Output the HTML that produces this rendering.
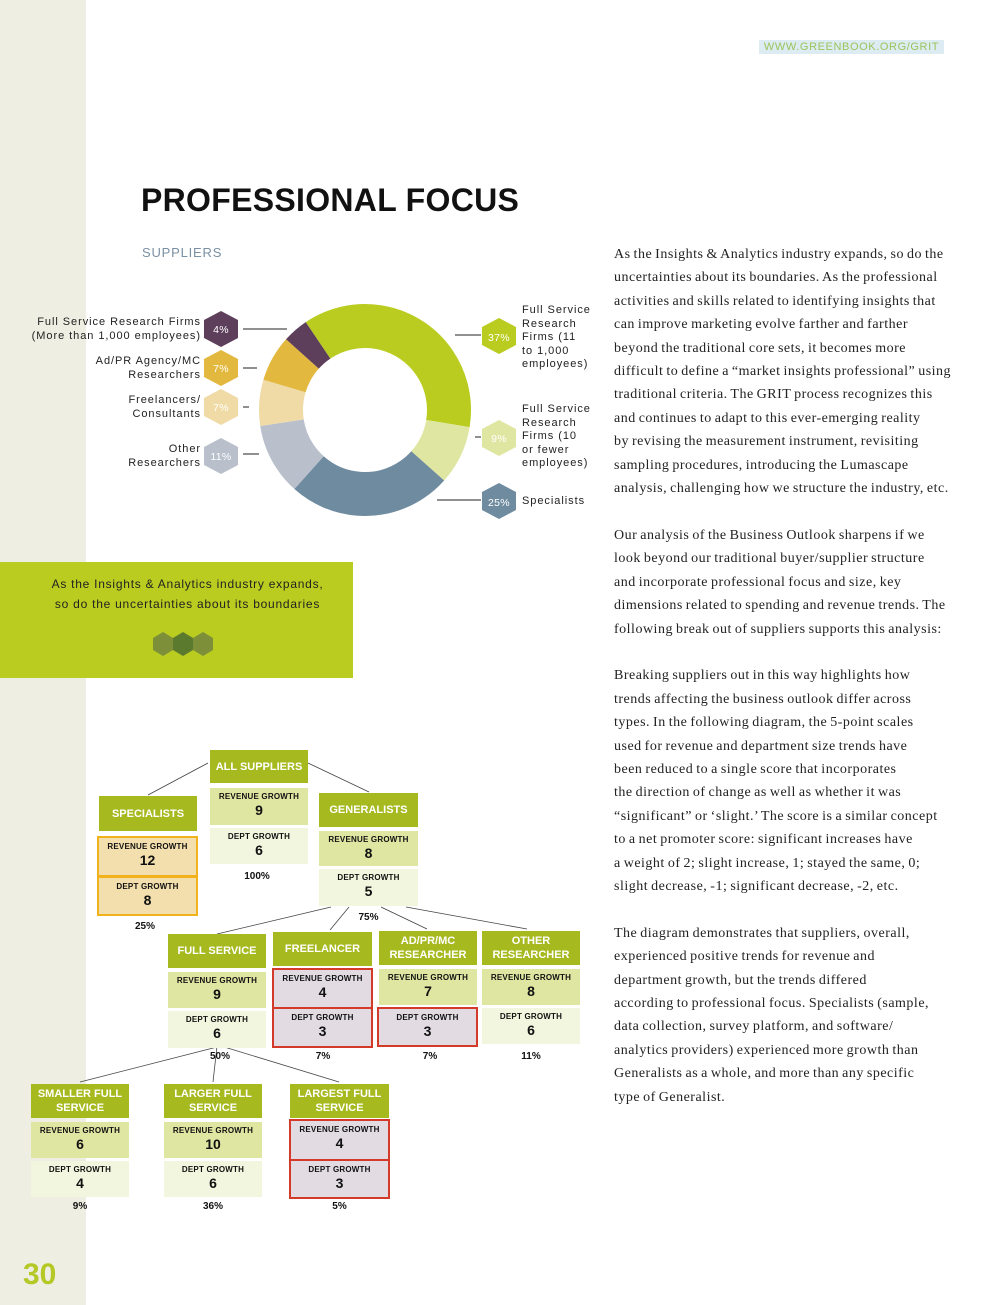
<!DOCTYPE html>
<html><head><meta charset="utf-8"><style>
*{margin:0;padding:0;box-sizing:border-box}
body{width:990px;height:1305px;position:relative;background:#fff;font-family:"Liberation Sans",sans-serif;overflow:hidden}
.a{position:absolute}
.strip{left:0;top:0;width:86px;height:1305px;background:#eeeee2}
.body{left:614px;top:243px;font-family:"Liberation Serif",serif;font-size:14px;line-height:23.4px;color:#222;white-space:nowrap;letter-spacing:.5px;word-spacing:-1px}
.hd{position:absolute;background:#a6b91f;color:#fff;font-weight:bold;font-size:11px;text-align:center;display:flex;align-items:center;justify-content:center;line-height:14px}
.c{position:absolute;text-align:center;color:#111;font-weight:bold}
.c .l{font-size:8px;display:block;margin-top:4px;letter-spacing:.2px}
.c .n{font-size:14px;display:block;line-height:18px}
.rv{background:#dfe6a2}
.dp{background:#f3f6de}
.red{background:#e2dbe2;border:2px solid #d33a2a}
.org{background:#f3dfae;border:2px solid #f2b21c}
.pct{position:absolute;font-size:10px;font-weight:bold;color:#111;text-align:center}
.lab{position:absolute;font-size:11px;color:#222;letter-spacing:.95px;line-height:13.5px}
</style></head><body>
<div class="a strip"></div>
<div class="a" style="left:759px;top:40px;width:185px;height:14px;background:#dcecf2;color:#9cc45a;font-size:11px;letter-spacing:.6px;line-height:14px;text-align:center">WWW.GREENBOOK.ORG/GRIT</div>
<div class="a" style="left:141px;top:182px;font-size:32px;font-weight:bold;color:#111;letter-spacing:.3px">PROFESSIONAL FOCUS</div>
<div class="a" style="left:142px;top:245px;font-size:13px;color:#7a90a4;letter-spacing:.8px">SUPPLIERS</div>

<svg class="a" style="left:0;top:0" width="990" height="700">
<g transform="translate(365,410) rotate(-124)" fill="none" stroke-width="44">
<circle r="84" stroke="#b9cc1f" stroke-dasharray="195.3 600" stroke-dashoffset="0"/>
<circle r="84" stroke="#dfe6a2" stroke-dasharray="47.5 600" stroke-dashoffset="-195.3"/>
<circle r="84" stroke="#6f8ba0" stroke-dasharray="132 600" stroke-dashoffset="-242.8"/>
<circle r="84" stroke="#b9c0cc" stroke-dasharray="58 600" stroke-dashoffset="-374.8"/>
<circle r="84" stroke="#f0dba6" stroke-dasharray="37 600" stroke-dashoffset="-432.8"/>
<circle r="84" stroke="#e2b83e" stroke-dasharray="37 600" stroke-dashoffset="-469.8"/>
<circle r="84" stroke="#5e3f5b" stroke-dasharray="21.1 600" stroke-dashoffset="-506.8"/>
</g>
<g stroke="#222" stroke-width="1">
<line x1="243" y1="329" x2="287" y2="329"/><line x1="243" y1="368" x2="257" y2="368"/>
<line x1="243" y1="407" x2="249" y2="407"/><line x1="243" y1="454" x2="259" y2="454"/>
<line x1="455" y1="335" x2="481" y2="335"/><line x1="475" y1="437" x2="481" y2="437"/>
<line x1="437" y1="500" x2="481" y2="500"/>
</g>
<g font-family="Liberation Sans" font-size="10.5" fill="#fff" text-anchor="middle" letter-spacing=".3">
<polygon points="221,311 238,320 238,338 221,347 204,338 204,320" fill="#5e3f5b"/><text x="221" y="333">4%</text>
<polygon points="221,350 238,359 238,377 221,386 204,377 204,359" fill="#e2b83e"/><text x="221" y="372">7%</text>
<polygon points="221,389 238,398 238,416 221,425 204,416 204,398" fill="#f0dba6"/><text x="221" y="411">7%</text>
<polygon points="221,438 238,447 238,465 221,474 204,465 204,447" fill="#b9c0cc"/><text x="221" y="460">11%</text>
<polygon points="499,318 516,327 516,345 499,354 482,345 482,327" fill="#b9cc1f"/><text x="499" y="341">37%</text>
<polygon points="499,420 516,429 516,447 499,456 482,447 482,429" fill="#dfe6a2"/><text x="499" y="442">9%</text>
<polygon points="499,483 516,492 516,510 499,519 482,510 482,492" fill="#6f8ba0"/><text x="499" y="506">25%</text>
</g>
</svg>
<div class="lab" style="right:789px;top:316px;text-align:right">Full Service Research Firms<br>(More than 1,000 employees)</div>
<div class="lab" style="right:789px;top:355px;text-align:right">Ad/PR Agency/MC<br>Researchers</div>
<div class="lab" style="right:789px;top:394px;text-align:right">Freelancers/<br>Consultants</div>
<div class="lab" style="right:789px;top:443px;text-align:right">Other<br>Researchers</div>
<div class="lab" style="left:522px;top:304px">Full Service<br>Research<br>Firms (11<br>to 1,000<br>employees)</div>
<div class="lab" style="left:522px;top:403px">Full Service<br>Research<br>Firms (10<br>or fewer<br>employees)</div>
<div class="lab" style="left:522px;top:495px">Specialists</div>

<div class="a" style="left:0;top:562px;width:353px;height:116px;background:#b9cc1f"></div>
<div class="a" style="left:0;top:574px;width:375px;text-align:center;font-size:12px;line-height:20px;color:#222;letter-spacing:.75px">As the Insights &amp; Analytics industry expands,<br>so do the uncertainties about its boundaries</div>
<svg class="a" style="left:150px;top:630px" width="70" height="30">
<polygon points="13,2 23,8 23,20 13,26 3,20 3,8" fill="#7e8f3a"/>
<polygon points="53,2 63,8 63,20 53,26 43,20 43,8" fill="#7e8f3a"/>
<polygon points="33,2 43,8 43,20 33,26 23,20 23,8" fill="#5b7a2e"/>
</svg>

<div class="body a">As the Insights &amp; Analytics industry expands, so do the<br>uncertainties about its boundaries. As the professional<br>activities and skills related to identifying insights that<br>can improve marketing evolve farther and farther<br>beyond the traditional core sets, it becomes more<br>difficult to define a “market insights professional” using<br>traditional criteria. The GRIT process recognizes this<br>and continues to adapt to this ever-emerging reality<br>by revising the measurement instrument, revisiting<br>sampling procedures, introducing the Lumascape<br>analysis, challenging how we structure the industry, etc.<br><br>Our analysis of the Business Outlook sharpens if we<br>look beyond our traditional buyer/supplier structure<br>and incorporate professional focus and size, key<br>dimensions related to spending and revenue trends. The<br>following break out of suppliers supports this analysis:<br><br>Breaking suppliers out in this way highlights how<br>trends affecting the business outlook differ across<br>types. In the following diagram, the 5-point scales<br>used for revenue and department size trends have<br>been reduced to a single score that incorporates<br>the direction of change as well as whether it was<br>“significant” or ‘slight.’ The score is a similar concept<br>to a net promoter score: significant increases have<br>a weight of 2; slight increase, 1; stayed the same, 0;<br>slight decrease, -1; significant decrease, -2, etc.<br><br>The diagram demonstrates that suppliers, overall,<br>experienced positive trends for revenue and<br>department growth, but the trends differed<br>according to professional focus. Specialists (sample,<br>data collection, survey platform, and software/<br>analytics providers) experienced more growth than<br>Generalists as a whole, and more than any specific<br>type of Generalist.</div>

<svg class="a" style="left:0;top:0" width="600" height="1305">
<g stroke="#444" stroke-width=".8">
<line x1="208" y1="763" x2="148" y2="795"/><line x1="308" y1="763" x2="369" y2="792"/>
<line x1="331" y1="907" x2="217" y2="934"/><line x1="349" y1="907" x2="330" y2="930"/>
<line x1="381" y1="907" x2="427" y2="929"/><line x1="406" y1="907" x2="527" y2="929"/>
<line x1="221" y1="1046" x2="80" y2="1082"/><line x1="217" y1="1046" x2="213" y2="1082"/>
<line x1="221" y1="1046" x2="339" y2="1082"/>
</g></svg>

<div class="hd" style="left:210px;top:750px;width:98px;height:33px">ALL SUPPLIERS</div>
<div class="c rv" style="left:210px;top:788px;width:98px;height:37px"><span class="l">REVENUE GROWTH</span><span class="n">9</span></div>
<div class="c dp" style="left:210px;top:828px;width:98px;height:36px"><span class="l">DEPT GROWTH</span><span class="n">6</span></div>
<div class="pct" style="left:210px;top:871px;width:94px">100%</div>
<div class="hd" style="left:99px;top:796px;width:98px;height:35px">SPECIALISTS</div>
<div class="c org" style="left:97px;top:836px;width:101px;height:41px"><span class="l">REVENUE GROWTH</span><span class="n">12</span></div>
<div class="c org" style="left:97px;top:876px;width:101px;height:40px"><span class="l">DEPT GROWTH</span><span class="n">8</span></div>
<div class="pct" style="left:95px;top:921px;width:100px">25%</div>
<div class="hd" style="left:319px;top:793px;width:99px;height:34px">GENERALISTS</div>
<div class="c rv" style="left:319px;top:831px;width:99px;height:35px"><span class="l">REVENUE GROWTH</span><span class="n">8</span></div>
<div class="c dp" style="left:319px;top:869px;width:99px;height:37px"><span class="l">DEPT GROWTH</span><span class="n">5</span></div>
<div class="pct" style="left:319px;top:912px;width:99px">75%</div>
<div class="hd" style="left:168px;top:934px;width:98px;height:34px">FULL SERVICE</div>
<div class="c rv" style="left:168px;top:972px;width:98px;height:36px"><span class="l">REVENUE GROWTH</span><span class="n">9</span></div>
<div class="c dp" style="left:168px;top:1011px;width:98px;height:37px"><span class="l">DEPT GROWTH</span><span class="n">6</span></div>
<div class="pct" style="left:170px;top:1051px;width:100px">50%</div>
<div class="hd" style="left:273px;top:932px;width:99px;height:34px">FREELANCER</div>
<div class="c red" style="left:272px;top:968px;width:101px;height:41px"><span class="l">REVENUE GROWTH</span><span class="n">4</span></div>
<div class="c red" style="left:272px;top:1007px;width:101px;height:41px"><span class="l">DEPT GROWTH</span><span class="n">3</span></div>
<div class="pct" style="left:273px;top:1051px;width:100px">7%</div>
<div class="hd" style="left:379px;top:931px;width:98px;height:34px">AD/PR/MC<br>RESEARCHER</div>
<div class="c rv" style="left:379px;top:969px;width:98px;height:36px"><span class="l">REVENUE GROWTH</span><span class="n">7</span></div>
<div class="c red" style="left:377px;top:1007px;width:101px;height:40px"><span class="l">DEPT GROWTH</span><span class="n">3</span></div>
<div class="pct" style="left:380px;top:1051px;width:100px">7%</div>
<div class="hd" style="left:482px;top:931px;width:98px;height:34px">OTHER<br>RESEARCHER</div>
<div class="c rv" style="left:482px;top:969px;width:98px;height:36px"><span class="l">REVENUE GROWTH</span><span class="n">8</span></div>
<div class="c dp" style="left:482px;top:1008px;width:98px;height:36px"><span class="l">DEPT GROWTH</span><span class="n">6</span></div>
<div class="pct" style="left:482px;top:1051px;width:98px">11%</div>
<div class="hd" style="left:31px;top:1084px;width:98px;height:34px">SMALLER FULL<br>SERVICE</div>
<div class="c rv" style="left:31px;top:1122px;width:98px;height:36px"><span class="l">REVENUE GROWTH</span><span class="n">6</span></div>
<div class="c dp" style="left:31px;top:1161px;width:98px;height:36px"><span class="l">DEPT GROWTH</span><span class="n">4</span></div>
<div class="pct" style="left:31px;top:1201px;width:98px">9%</div>
<div class="hd" style="left:164px;top:1084px;width:98px;height:34px">LARGER FULL<br>SERVICE</div>
<div class="c rv" style="left:164px;top:1122px;width:98px;height:36px"><span class="l">REVENUE GROWTH</span><span class="n">10</span></div>
<div class="c dp" style="left:164px;top:1161px;width:98px;height:36px"><span class="l">DEPT GROWTH</span><span class="n">6</span></div>
<div class="pct" style="left:164px;top:1201px;width:98px">36%</div>
<div class="hd" style="left:290px;top:1084px;width:99px;height:34px">LARGEST FULL<br>SERVICE</div>
<div class="c red" style="left:289px;top:1119px;width:101px;height:42px"><span class="l">REVENUE GROWTH</span><span class="n">4</span></div>
<div class="c red" style="left:289px;top:1159px;width:101px;height:40px"><span class="l">DEPT GROWTH</span><span class="n">3</span></div>
<div class="pct" style="left:289px;top:1201px;width:101px">5%</div>

<div class="a" style="left:23px;top:1258px;font-size:30px;font-weight:bold;color:#b4c826">30</div>
</body></html>
